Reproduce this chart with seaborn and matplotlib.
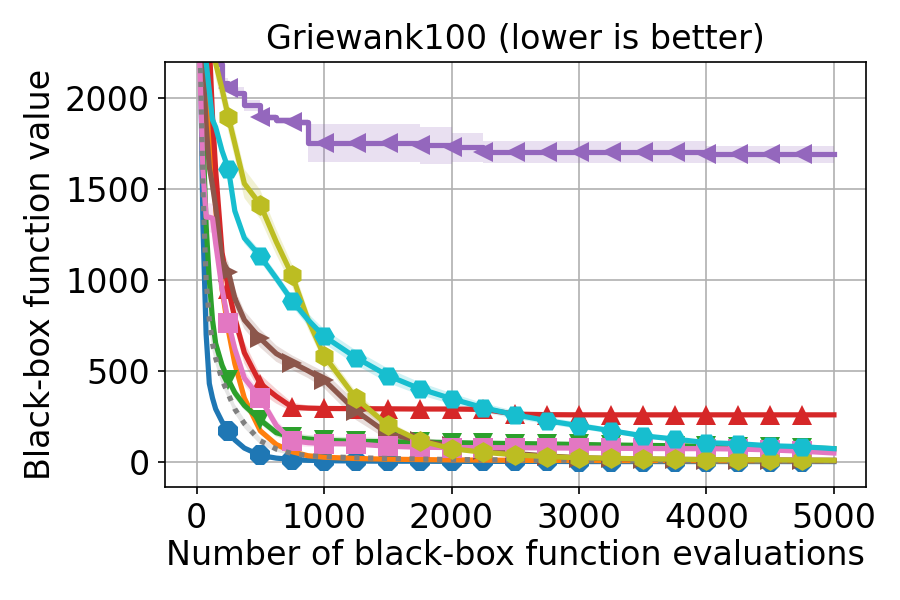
import numpy as np
import matplotlib
matplotlib.use("Agg")
import matplotlib.pyplot as plt
import seaborn as sns

# evaluation grid (number of black-box evaluations)
evals = [0, 25, 50, 75, 100, 125, 150, 200, 250, 300, 375, 500, 625, 750, 875,
         1000, 1250, 1500, 1750, 2000, 2250, 2500, 2750, 3000, 3250, 3500,
         3750, 4000, 4250, 4500, 4750, 5000]

# mean best-so-far value per method
blue = [3500, 2500, 1300, 700, 430, 350, 290, 220, 170, 120, 75, 35, 20, 12, 8,
        6, 4, 3, 3, 2, 2, 2, 2, 1, 1, 1, 1, 1, 1, 1, 1, 1]
orange = [3500, 3000, 2500, 2000, 1850, 1700, 1400, 950, 720, 540, 350, 170, 95, 55, 33,
          25, 18, 14, 12, 10, 9, 8, 7, 7, 6, 6, 6, 5, 5, 5, 5, 5]
green = [3200, 2500, 1800, 1300, 1000, 780, 650, 530, 450, 380, 310, 230, 160, 135, 125,
         118, 112, 110, 108, 105, 102, 100, 98, 95, 92, 90, 88, 85, 82, 80, 77, 72]
red = [3500, 3200, 2900, 2600, 2300, 1900, 1600, 1150, 950, 790, 600, 430, 360, 300, 295,
       293, 292, 291, 290, 290, 288, 262, 259, 258, 258, 258, 258, 258, 258, 258, 258, 258]
purple = [3500, 3200, 2900, 2600, 2400, 2300, 2190, 2083, 2055, 2030, 1960, 1895, 1879, 1868, 1752,
          1752, 1752, 1752, 1740, 1730, 1702, 1702, 1702, 1702, 1702, 1702, 1702, 1691, 1691, 1691, 1691, 1691]
brown = [3300, 2800, 2200, 1850, 1620, 1520, 1400, 1110, 1045, 900, 780, 678, 595, 545, 500,
         450, 280, 155, 116, 85, 62, 45, 32, 22, 18, 15, 13, 12, 11, 10, 9, 8]
pink = [3000, 2200, 1600, 1345, 1345, 1340, 1200, 950, 765, 620, 460, 350, 200, 115, 105,
        100, 98, 85, 80, 78, 78, 77, 76, 75, 74, 73, 72, 72, 70, 65, 58, 48]
gray = [3200, 2400, 1500, 1000, 780, 650, 570, 450, 370, 290, 210, 115, 70, 45, 33,
        28, 22, 18, 15, 12, 11, 10, 9, 8, 7, 7, 6, 6, 5, 5, 5, 4]
olive = [3500, 3300, 3000, 2800, 2600, 2400, 2190, 2050, 1895, 1750, 1530, 1415, 1210, 1025, 780,
         584, 350, 200, 116, 72, 52, 38, 28, 22, 19, 16, 14, 12, 11, 10, 9, 8]
cyan = [3500, 3000, 2600, 2200, 2040, 1880, 1840, 1710, 1610, 1380, 1230, 1130, 1010, 885, 780,
        690, 573, 474, 402, 347, 297, 258, 226, 198, 171, 143, 125, 105, 99, 88, 83, 72]

# half-width of the shaded band
blue_sd = [200, 150, 100, 60, 40, 30, 25, 20, 15, 12, 8, 5, 4, 3, 2,
           2, 1, 1, 1, 1, 1, 1, 1, 1, 1, 1, 1, 1, 1, 1, 1, 1]
orange_sd = [200, 150, 150, 120, 100, 90, 80, 60, 50, 40, 30, 20, 12, 8, 5,
             4, 3, 3, 2, 2, 2, 2, 2, 2, 2, 2, 2, 2, 2, 2, 2, 2]
green_sd = [200, 150, 120, 90, 70, 60, 50, 40, 35, 30, 25, 22, 22, 22, 22,
            22, 22, 20, 20, 15, 12, 12, 10, 10, 10, 10, 10, 10, 10, 10, 10, 10]
red_sd = [200, 150, 150, 120, 100, 100, 90, 70, 60, 60, 60, 50, 40, 25, 15,
          12, 10, 10, 10, 10, 10, 8, 5, 5, 5, 5, 5, 5, 5, 5, 5, 5]
purple_sd = [100, 100, 100, 80, 70, 60, 40, 30, 20, 30, 30, 20, 20, 20, 105,
             105, 105, 105, 100, 80, 60, 60, 60, 60, 60, 60, 60, 45, 45, 45, 45, 45]
brown_sd = [200, 150, 120, 100, 90, 80, 70, 60, 50, 50, 50, 50, 45, 40, 40,
            45, 50, 35, 25, 15, 10, 8, 6, 5, 4, 3, 3, 3, 3, 2, 2, 2]
pink_sd = [200, 150, 100, 80, 80, 80, 70, 60, 50, 45, 40, 35, 30, 25, 20,
           15, 12, 10, 10, 10, 10, 10, 10, 10, 10, 10, 10, 10, 10, 8, 8, 8]
gray_sd = [200, 150, 100, 70, 50, 40, 35, 30, 25, 25, 25, 20, 15, 10, 8,
           6, 5, 4, 3, 3, 3, 2, 2, 2, 2, 2, 2, 2, 2, 2, 2, 2]
olive_sd = [150, 130, 120, 110, 100, 90, 80, 80, 80, 80, 80, 80, 70, 60, 50,
            40, 35, 25, 15, 10, 8, 6, 5, 4, 4, 3, 3, 3, 3, 3, 3, 3]
cyan_sd = [150, 120, 100, 80, 60, 50, 40, 35, 30, 30, 30, 30, 30, 30, 35,
           40, 40, 40, 35, 30, 25, 22, 20, 18, 15, 12, 10, 10, 8, 8, 8, 8]

series = [
    (blue, blue_sd, "tab:blue", "8", "-"),
    (orange, orange_sd, "tab:orange", None, "-"),
    (green, green_sd, "tab:green", "v", "-"),
    (red, red_sd, "tab:red", "^", "-"),
    (purple, purple_sd, "tab:purple", "<", "-"),
    (brown, brown_sd, "tab:brown", ">", "-"),
    (pink, pink_sd, "tab:pink", "s", "-"),
    (gray, gray_sd, "tab:gray", None, ":"),
    (olive, olive_sd, "tab:olive", "h", "-"),
    (cyan, cyan_sd, "tab:cyan", "H", "-"),
]

x = np.array(evals)
marks = [i for i, v in enumerate(evals) if v > 0 and v % 250 == 0 and v < 5000]

fig, ax = plt.subplots(figsize=(6, 4), dpi=150)
plt.subplots_adjust(left=0.183, right=0.962, top=0.897, bottom=0.188)

for vals, sd, col, mk, ls in series:
    vals = np.array(vals, dtype=float)
    sd = np.array(sd, dtype=float)
    step = "post" if col == "tab:purple" else None
    ax.fill_between(x, vals - sd, vals + sd, color=col, alpha=0.2, lw=0, step=step)
    kw = dict(color=col, lw=2.5, linestyle=ls, ax=ax)
    if mk is not None:
        kw.update(marker=mk, markevery=marks, markersize=10, markeredgewidth=0)
    if step:
        kw["drawstyle"] = "steps-post"
    sns.lineplot(x=x, y=vals, **kw)

ax.set_xlim(-250, 5250)
ax.set_ylim(-140, 2200)
ax.set_xticks([0, 1000, 2000, 3000, 4000, 5000])
ax.set_yticks([0, 500, 1000, 1500, 2000])
ax.tick_params(labelsize=16)
ax.grid(True, color="#b0b0b0", lw=0.8)
ax.set_axisbelow(True)
ax.set_xlabel("Number of black-box function evaluations", fontsize=16, labelpad=2)
ax.set_ylabel("Black-box function value", fontsize=16)
ax.set_title("Griewank100 (lower is better)", fontsize=16)

plt.savefig("out.png", dpi=150)
